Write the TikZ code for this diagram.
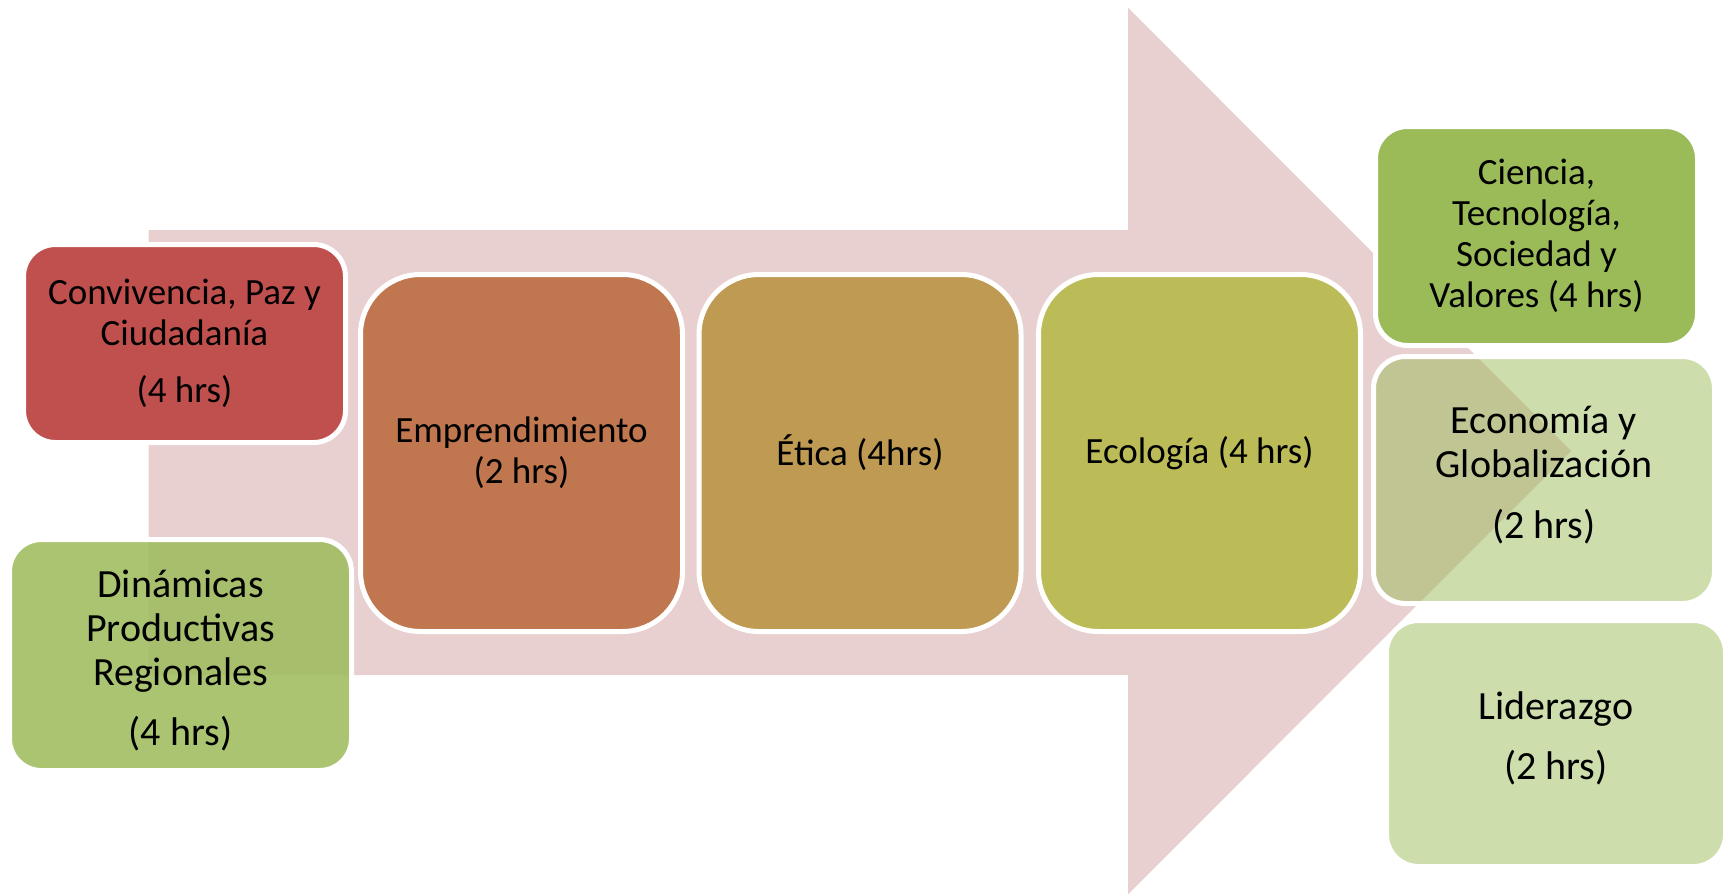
\documentclass[tikz,border=0pt]{standalone}
\usepackage{fontspec}
\setmainfont{Carlito}
\definecolor{arrowpink}{HTML}{E8D0D1}
\definecolor{cred}{HTML}{C0504D}
\definecolor{corange}{HTML}{C0774F}
\definecolor{cochre}{HTML}{BE9A52}
\definecolor{colive}{HTML}{BBBB58}
\definecolor{cgreen}{HTML}{9BBB59}
\definecolor{cgreenb}{HTML}{A1BE62}
\tikzset{
  box/.style={rectangle, draw=white, line width=5pt, align=center,
    font=\fontsize{37}{41}\selectfont, text=black, inner sep=0pt},
  bigtext/.style={font=\fontsize{40}{44}\selectfont, align=center, text=black, inner sep=0pt},
  sidebox/.style={box, rounded corners=32pt},
  midbox/.style={box, rounded corners=60pt, minimum width=322pt, minimum height=357pt},
  lightbox/.style={sidebox, fill=cgreen, fill opacity=0.5, draw opacity=1}
}
\begin{document}
\begin{tikzpicture}[x=1pt,y=-1pt]
\useasboundingbox (0,0) rectangle (1726,895);
% big arrow
\fill[arrowpink] (148.6,230) -- (1128,230) -- (1128,7.7) -- (1571,451) -- (1128,894.3) -- (1128,675) -- (148.6,675) -- cycle;
% left boxes
\node[sidebox, fill=cred, minimum width=322pt, minimum height=198pt] (conv) at (184.5,343.5)
  {Convivencia, Paz y\\Ciudadanía\\[16pt](4 hrs)};
\node[sidebox, fill=cgreenb, fill opacity=0.9, draw opacity=1, minimum width=342pt, minimum height=231pt] (din) at (180.5,655) {};
\node[bigtext] (dintext) at ([yshift=-5.5pt]din.center)
  {Dinámicas\\Productivas\\Regionales\\[16pt](4 hrs)};
% middle boxes
\node[midbox, fill=corange] (emp) at (521.5,453) {Emprendimiento\\(2 hrs)};
\node[midbox, fill=cochre] (eti) at (860,453) {Ética (4hrs)};
\node[midbox, fill=colive] (eco) at (1199.5,453) {Ecología (4 hrs)};
% right boxes
\node[sidebox, fill=cgreen, minimum width=322pt, minimum height=219pt] (cie) at (1536.5,236)
  {Ciencia,\\Tecnología,\\Sociedad y\\Valores (4 hrs)};
\node[lightbox, minimum width=341pt, minimum height=247pt] (econ) at (1544,480) {};
\node[bigtext] (econtext) at ([yshift=5pt]econ.center)
  {Economía y\\Globalización\\[17pt](2 hrs)};
\node[lightbox, minimum width=339pt, minimum height=246pt] (lid) at (1556,743.5) {};
\node[bigtext] (lidtext) at ([yshift=5.5pt]lid.center)
  {Liderazgo\\[16pt](2 hrs)};
\end{tikzpicture}
\end{document}
